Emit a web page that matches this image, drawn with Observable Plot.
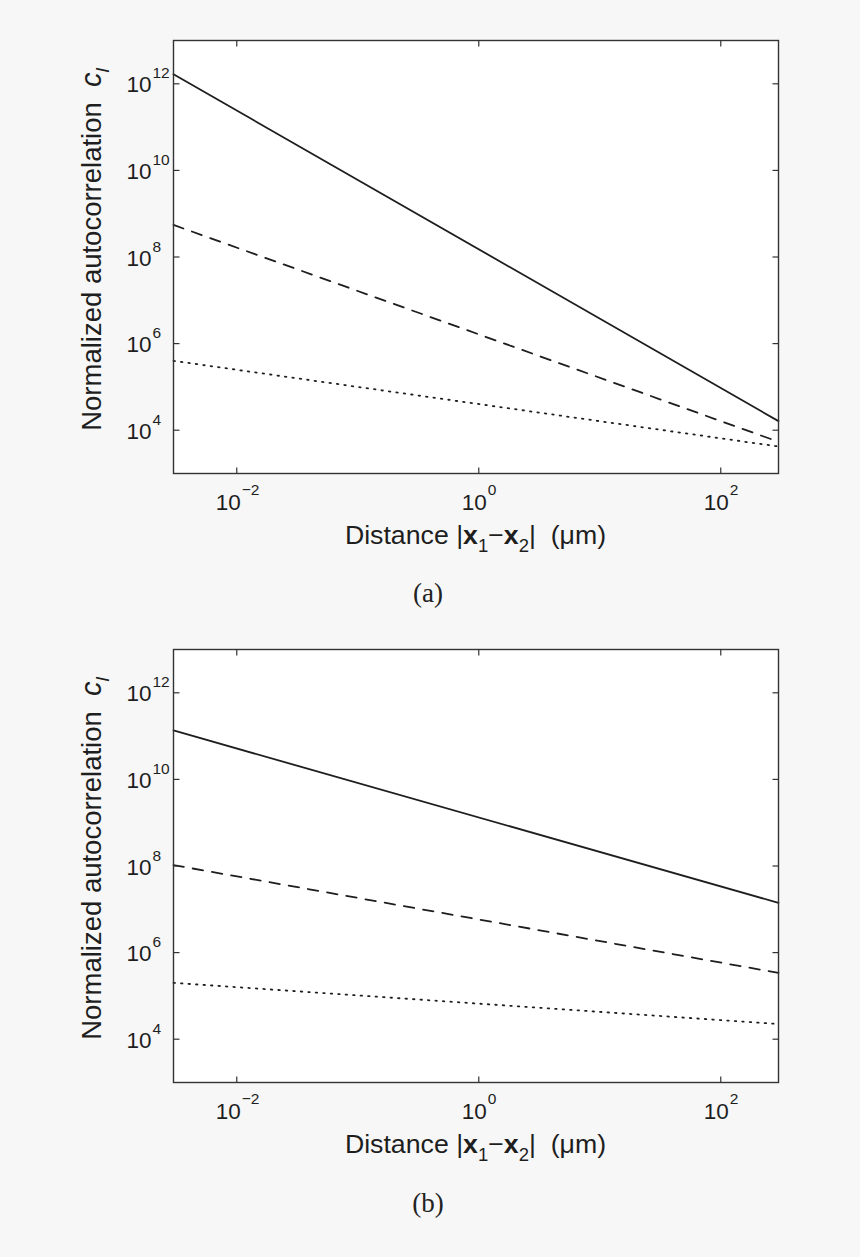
<!DOCTYPE html>
<html><head><meta charset="utf-8">
<script src="https://cdn.jsdelivr.net/npm/d3@7"></script>
<script src="https://cdn.jsdelivr.net/npm/@observablehq/plot@0.6"></script>
<style>
body{margin:0;background:#f7f7f7;}
#root{width:860px;height:1257px;position:relative;background:#f7f7f7;overflow:hidden;}
.cap{width:856px;height:34px;padding-top:16px;line-height:34px;text-align:center;font-family:"Liberation Serif","DejaVu Serif",serif;font-size:27px;color:#222;}
svg{display:block}
</style></head><body><div id="root"></div>
<script>
// ---- data ----
const distance = [0.003, 300];            // x extent of each line (µm)
const aSolid  = [1.66e12, 1.62e4];
const aDashed = [5.5e8, 5.4e3];
const aDotted = [4.0e5, 4.2e3];
const bSolid  = [1.35e11, 1.41e7];
const bDashed = [1.05e8, 3.4e5];
const bDotted = [2.0e5, 2.24e4];
const xDomain = [0.003, 300];
const yDomain = [1e3, 1e13];
const xTickValues = [0.01, 1, 100];
const xTickExponents = ["\u22122", "0", "2"];
const yTickValues = [1e4, 1e6, 1e8, 1e10, 1e12];
const yTickExponents = ["4", "6", "8", "10", "12"];
const captions = ["(a)", "(b)"];

const FONT = '"Liberation Sans", Arial, Helvetica, sans-serif';
const INK = "#1e1e1e";
const ML = 173, MR = 82, W = 860, H = 560, FH = 433;

const tickUp = {draw(c){c.moveTo(0,0);c.lineTo(0,-6);}};
const tickDown = {draw(c){c.moveTo(0,0);c.lineTo(0,6);}};
const tickRight = {draw(c){c.moveTo(0,0);c.lineTo(6,0);}};
const tickLeft = {draw(c){c.moveTo(0,0);c.lineTo(-6,0);}};

function rows(vals){ return distance.map((d,i)=>({d, v: vals[i]})); }

function panel(solid, dashed, dotted, mt) {
  const mb = H - mt - FH;
  const xt = xTickValues.map((v,i)=>({v, e: xTickExponents[i], neg: v < 1}));
  const yt = yTickValues.map((v,i)=>({v, e: yTickExponents[i]}));
  const tk = {fill: "none", stroke: "#333", strokeWidth: 1.2, r: 3};
  const lineStyle = {x: "d", y: "v", stroke: INK, strokeWidth: 1.8};
  const svg = Plot.plot({
    width: W, height: H,
    marginLeft: ML, marginRight: MR, marginTop: mt, marginBottom: mb,
    style: {background: "transparent", fontFamily: FONT, color: INK},
    x: {type: "log", domain: xDomain, axis: null},
    y: {type: "log", domain: yDomain, axis: null},
    marks: [
      Plot.frame({fill: "white", stroke: null}),
      Plot.line(rows(dotted), {...lineStyle, strokeDasharray: "1.5,6"}),
      Plot.line(rows(dashed), {...lineStyle, strokeDasharray: "10.5,9"}),
      Plot.line(rows(solid), {...lineStyle}),
      Plot.dot(xt, {x: "v", y: () => yDomain[0], symbol: tickUp, ...tk}),
      Plot.dot(xt, {x: "v", y: () => yDomain[1], symbol: tickDown, ...tk}),
      Plot.dot(yt, {x: () => xDomain[0], y: "v", symbol: tickRight, ...tk}),
      Plot.dot(yt, {x: () => xDomain[1], y: "v", symbol: tickLeft, ...tk}),
      Plot.frame({stroke: "#333", strokeWidth: 1.4}),
      // x tick labels
      Plot.text(xt.filter(d=>d.neg), {x: "v", y: () => yDomain[0], text: () => "10", textAnchor: "end", lineAnchor: "bottom", dx: 4, dy: 36, fontSize: 22.5, fill: INK}),
      Plot.text(xt.filter(d=>!d.neg), {x: "v", y: () => yDomain[0], text: () => "10", textAnchor: "end", lineAnchor: "bottom", dx: 8, dy: 36, fontSize: 22.5, fill: INK}),
      Plot.text(xt.filter(d=>d.neg), {x: "v", y: () => yDomain[0], text: "e", textAnchor: "start", lineAnchor: "bottom", dx: 5, dy: 21, fontSize: 15.5, fill: INK}),
      Plot.text(xt.filter(d=>!d.neg), {x: "v", y: () => yDomain[0], text: "e", textAnchor: "start", lineAnchor: "bottom", dx: 9, dy: 21, fontSize: 15.5, fill: INK}),
      // y tick labels
      Plot.text(yt, {x: () => xDomain[0], y: "v", text: () => "10", textAnchor: "end", lineAnchor: "bottom", dx: -22, dy: 8.5, fontSize: 22.5, fill: INK}),
      Plot.text(yt, {x: () => xDomain[0], y: "v", text: "e", textAnchor: "start", lineAnchor: "bottom", dx: -21, dy: -5.5, fontSize: 15.5, fill: INK})
    ]
  });
  // axis titles
  const s = d3.select(svg);
  const cx = ML + (W - ML - MR) / 2;
  const t = s.append("text").attr("x", cx).attr("y", mt + FH + 71)
    .attr("text-anchor", "middle").attr("font-family", FONT).attr("font-size", 26.7)
    .attr("fill", INK).attr("xml:space", "preserve");
  t.append("tspan").text("Distance |");
  t.append("tspan").attr("font-weight", "bold").text("x");
  t.append("tspan").attr("font-size", 18.5).attr("dy", 8).text("1");
  t.append("tspan").attr("dy", -8).text("\u2212");
  t.append("tspan").attr("font-weight", "bold").text("x");
  t.append("tspan").attr("font-size", 18.5).attr("dy", 8).text("2");
  t.append("tspan").attr("dy", -8).text("|\u00a0\u00a0(\u03bcm)");
  const ty = s.append("text").attr("transform", `translate(101,${mt + FH/2 - 7}) rotate(-90)`)
    .attr("text-anchor", "middle").attr("font-family", FONT).attr("font-size", 27.5)
    .attr("fill", INK);
  ty.append("tspan").text("Normalized autocorrelation\u00a0\u00a0");
  ty.append("tspan").attr("font-style", "italic").attr("font-size", 29).text("c");
  ty.append("tspan").attr("font-style", "italic").attr("font-size", 19).attr("dy", 8).text("l");
  return svg;
}

const root = document.getElementById("root");
const panels = [[aSolid, aDashed, aDotted, 40], [bSolid, bDashed, bDotted, 39]];
panels.forEach((p, i) => {
  root.appendChild(panel(...p));
  const c = document.createElement("div");
  c.className = "cap";
  c.textContent = captions[i];
  root.appendChild(c);
});
</script></body></html>
